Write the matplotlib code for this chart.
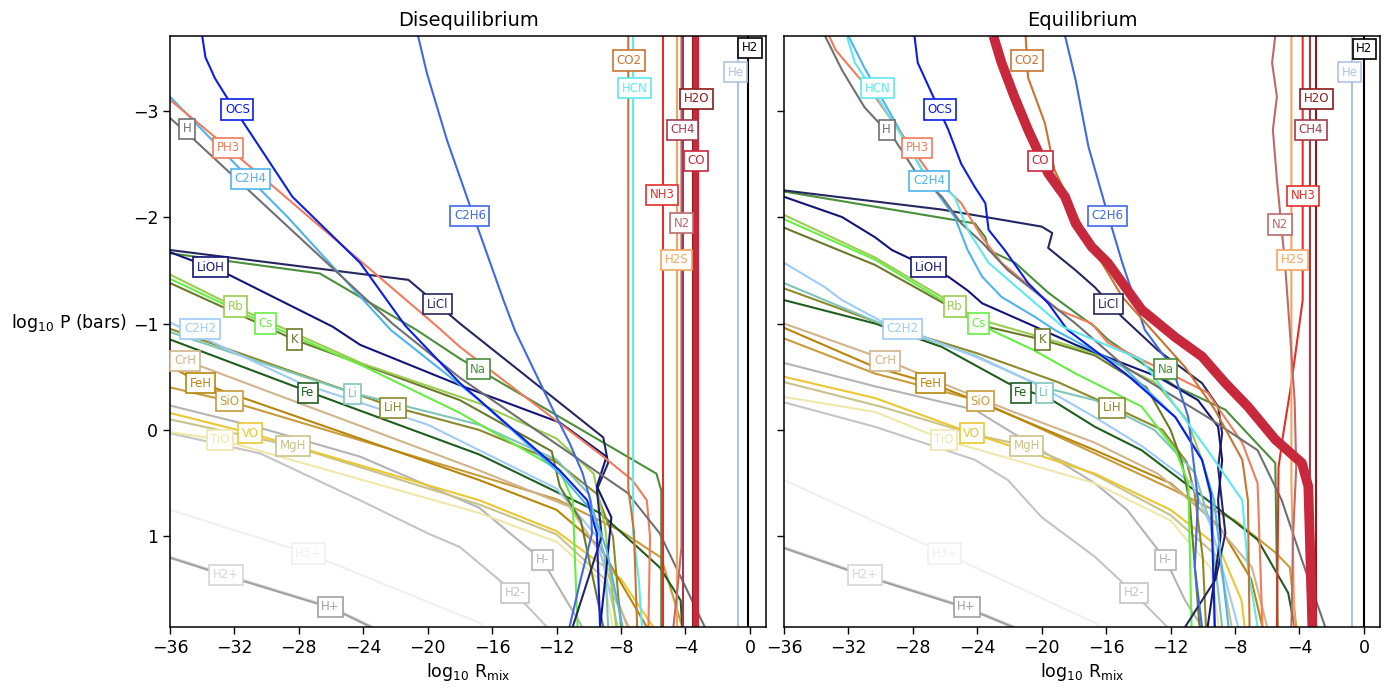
import matplotlib.pyplot as plt
import numpy as np

# ---------------------------------------------------------------
# curves: (log10 R_mix, log10 P [bars])
# ---------------------------------------------------------------

# Disequilibrium panel
dis_H2 = [(-0.1, -3.7), (-0.1, 1.85)]
dis_He = [(-0.75, -3.7), (-0.75, 1.85)]
dis_H2O = [(-3.55, -3.7), (-3.55, 1.85)]
dis_CO = [(-3.35, -3.7), (-3.35, 1.85)]
dis_CH4 = [(-4.15, -3.7), (-4.15, 1.85)]
dis_N2 = [(-4.25, -3.7), (-4.25, 1.1), (-4.5, 1.5), (-4.75, 1.85)]
dis_H2S = [(-4.55, -3.7), (-4.55, 1.85)]
dis_NH3 = [(-5.4, -3.7), (-5.4, 1.85)]
dis_CO2 = [(-7.55, -3.7), (-7.55, 0.55), (-7.2, 0.95), (-7.0, 1.85)]
dis_HCN = [(-7.25, -3.7), (-7.25, 0.97), (-6.9, 1.4), (-6.7, 1.85)]
dis_C2H6 = [(-20.6, -3.7), (-20.05, -3.35), (-18.8, -2.72), (-17.25, -2.05),
            (-15.3, -1.22), (-14.6, -0.94), (-12.0, -0.12), (-11.2, 0.12),
            (-10.4, 0.4), (-9.9, 0.66), (-9.8, 0.97), (-10.5, 1.4), (-11.2, 1.85)]
dis_OCS = [(-34.0, -3.7), (-33.8, -3.5), (-33.2, -3.3), (-32.5, -3.13),
           (-28.4, -2.19), (-24.2, -1.57), (-21.4, -0.98), (-18.0, -0.44),
           (-11.8, 0.38), (-10.1, 0.66), (-9.5, 0.97), (-9.3, 1.85)]
dis_H = [(-36, -2.93), (-34.6, -2.74), (-28.4, -1.87), (-22.2, -1.0),
         (-18.0, -0.49), (-7.6, 0.59), (-5.6, 0.97), (-2.8, 1.85)]
dis_PH3 = [(-36, -3.1), (-32.4, -2.65), (-19.4, -0.97), (-18.0, -0.78),
           (-9.1, 0.25), (-7.3, 0.47), (-6.4, 0.66), (-6.2, 1.0), (-6.3, 1.85)]
dis_C2H4 = [(-36, -3.13), (-31.0, -2.35), (-28.7, -2.0), (-22.3, -0.94),
            (-16.8, -0.28), (-11.8, 0.41), (-9.7, 0.78), (-8.9, 1.12), (-7.9, 1.85)]
dis_LiOH = [(-36, -1.67), (-32.5, -1.47), (-25.9, -0.97), (-24.2, -0.8),
            (-18.0, -0.42), (-11.8, -0.07), (-8.9, 0.25), (-9.5, 0.53),
            (-8.6, 0.82), (-8.9, 1.29), (-9.3, 1.85)]
dis_LiCl = [(-36, -1.69), (-21.2, -1.41), (-19.4, -1.18), (-18.0, -1.0),
            (-9.1, 0.07), (-8.8, 0.31), (-9.5, 0.56), (-9.2, 1.0), (-11.0, 1.85)]
dis_Na = [(-36, -1.66), (-26.7, -1.47), (-20.7, -0.94), (-18.0, -0.67),
          (-5.8, 0.41), (-5.5, 0.57), (-5.5, 1.85)]
dis_Rb = [(-36, -1.46), (-32.0, -1.16), (-24.0, -0.62), (-16.8, -0.25),
          (-12.0, 0.08), (-9.7, 0.41), (-9.0, 0.9), (-8.3, 1.85)]
dis_Cs = [(-36, -1.42), (-30.1, -1.0), (-24.0, -0.6), (-18.0, -0.16),
          (-11.8, 0.38), (-11.0, 0.66), (-10.7, 1.85)]
dis_K = [(-36, -1.38), (-28.3, -0.85), (-18.0, -0.28), (-12.3, 0.2),
         (-11.8, 0.53), (-10.5, 0.85), (-9.1, 1.85)]
dis_C2H2 = [(-36, -1.01), (-27.9, -0.44), (-20.0, -0.05), (-16.8, 0.19),
            (-12.0, 0.55), (-9.5, 1.0), (-8.2, 1.85)]
dis_Li = [(-36, -0.92), (-24.7, -0.35), (-16.8, -0.05), (-12.0, 0.28),
          (-10.0, 0.6), (-9.0, 1.2), (-8.8, 1.85)]
dis_LiH = [(-36, -0.95), (-22.2, -0.22), (-16.8, 0.0), (-12.0, 0.3),
           (-9.5, 0.6), (-8.5, 1.0), (-8.0, 1.85)]
dis_Fe = [(-36, -0.85), (-27.4, -0.36), (-16.8, 0.23), (-9.3, 0.78),
          (-5.6, 1.29), (-4.3, 1.6), (-4.2, 1.85)]
dis_CrH = [(-36, -0.7), (-35.0, -0.65), (-16.8, 0.38), (-11.2, 0.72),
           (-9.3, 1.15), (-7.6, 1.85)]
dis_FeH = [(-36, -0.6), (-34.1, -0.44), (-16.8, 0.47), (-12.0, 0.75),
           (-9.3, 1.1), (-6.4, 1.85)]
dis_SiO = [(-36, -0.4), (-32.3, -0.27), (-16.8, 0.43), (-12.0, 0.65),
           (-8.0, 0.95), (-5.5, 1.2), (-4.2, 1.85)]
dis_VO = [(-36, -0.16), (-31.0, 0.03), (-16.8, 0.66), (-12.0, 0.95),
          (-8.0, 1.4), (-6.0, 1.85)]
dis_TiO = [(-36, 0.02), (-32.9, 0.09), (-16.8, 0.78), (-12.0, 1.05),
           (-9.0, 1.45), (-8.5, 1.85)]
dis_MgH = [(-36, -0.1), (-28.4, 0.15), (-16.8, 0.7), (-12.0, 0.98),
           (-9.0, 1.4), (-7.5, 1.85)]
dis_Hm = [(-36, -0.23), (-30.4, -0.02), (-24.2, 0.25), (-16.8, 0.73),
          (-12.9, 1.22), (-10.4, 1.85)]
dis_H2m = [(-36, 0.03), (-30.4, 0.22), (-24.2, 0.66), (-20.0, 0.97),
           (-18.0, 1.1), (-14.6, 1.53), (-12.6, 1.85)]
dis_H3p = [(-36, 0.75), (-27.4, 1.16), (-16.8, 1.81), (-16.5, 1.85)]
dis_H2p = [(-36, 1.19), (-32.5, 1.36), (-26.0, 1.66), (-23.4, 1.85)]
dis_Hp = [(-36, 1.2), (-32.5, 1.37), (-26.0, 1.67), (-23.4, 1.86)]

# Equilibrium panel
eq_H2 = [(-0.02, -3.7), (-0.02, 1.85)]
eq_He = [(-0.72, -3.7), (-0.72, 1.85)]
eq_H2O = [(-3.0, -3.7), (-3.0, 1.85)]
eq_CH4 = [(-3.35, -3.7), (-3.35, 0.9), (-3.5, 1.4), (-3.4, 1.85)]
eq_NH3 = [(-3.8, -3.7), (-3.8, -1.22), (-4.5, -0.44), (-5.0, 0.03),
          (-5.3, 0.35), (-5.4, 1.85)]
eq_H2S = [(-4.5, -3.7), (-4.5, 0.5), (-4.3, 1.85)]
eq_N2 = [(-5.5, -3.7), (-5.7, -3.45), (-5.4, -3.13), (-5.65, -2.82),
         (-5.4, -2.35), (-5.2, -2.04), (-4.9, -1.57), (-4.6, -0.94),
         (-4.3, -0.28), (-4.2, 0.35), (-4.4, 1.0), (-4.5, 1.85)]
eq_CO = [(-23.0, -3.7), (-22.5, -3.45), (-21.7, -3.13), (-20.85, -2.82),
         (-19.6, -2.41), (-18.55, -2.19), (-17.9, -1.94), (-16.9, -1.72),
         (-15.9, -1.57), (-13.8, -1.13), (-11.7, -0.87), (-10.05, -0.69),
         (-8.6, -0.44), (-7.2, -0.22), (-5.5, 0.09), (-3.85, 0.31),
         (-3.45, 0.53), (-3.2, 1.85)]
eq_CO2 = [(-21.0, -3.7), (-20.85, -3.31), (-19.8, -2.88), (-19.2, -2.44),
          (-18.4, -2.19), (-17.1, -1.78), (-15.0, -1.25), (-11.1, -0.59),
          (-9.25, -0.19), (-7.55, 0.28), (-7.2, 0.66), (-7.1, 1.85)]
eq_HCN = [(-32.1, -3.7), (-31.6, -3.45), (-29.3, -2.91), (-27.4, -2.44),
          (-25.4, -2.19), (-24.6, -1.88), (-23.3, -1.57), (-20.85, -1.25),
          (-18.7, -0.97), (-13.8, -0.66), (-9.7, 0.19), (-7.55, 0.66),
          (-7.2, 1.29), (-6.6, 1.85)]
eq_C2H6 = [(-18.55, -3.7), (-17.9, -3.29), (-17.1, -2.66), (-16.1, -2.13),
           (-15.0, -1.57), (-13.6, -0.94), (-11.9, -0.59), (-10.9, -0.12),
           (-10.3, 0.66), (-10.5, 1.29), (-10.05, 1.85)]
eq_OCS = [(-27.9, -3.7), (-27.7, -3.45), (-25.8, -2.82), (-25.0, -2.5),
          (-24.15, -2.28), (-23.5, -2.13), (-23.3, -1.88), (-22.3, -1.69),
          (-20.85, -1.38), (-19.6, -1.19), (-18.4, -0.94), (-14.8, -0.53),
          (-11.7, -0.12), (-10.05, 0.28), (-9.5, 0.6), (-9.25, 1.85)]
eq_H = [(-33.45, -3.7), (-32.4, -3.38), (-31.0, -3.03), (-29.1, -2.72),
        (-27.9, -2.44), (-26.2, -2.19), (-25.0, -1.94), (-23.7, -1.76),
        (-22.1, -1.5), (-20.0, -1.25), (-17.9, -1.0), (-14.8, -0.59),
        (-9.7, -0.12), (-6.6, 0.19), (-5.1, 0.66), (-3.85, 1.22), (-2.4, 1.85)]
eq_PH3 = [(-33.2, -3.7), (-32.8, -3.57), (-30.35, -3.13), (-27.1, -2.44),
          (-25.0, -2.13), (-23.7, -1.81), (-22.5, -1.57), (-19.0, -1.13),
          (-16.9, -1.0), (-15.9, -0.82), (-9.7, -0.35), (-7.55, 0.12),
          (-6.6, 0.5), (-6.3, 1.85)]
eq_C2H4 = [(-32.0, -3.7), (-31.0, -3.4), (-29.5, -3.0), (-27.1, -2.35),
           (-25.4, -2.0), (-24.6, -1.69), (-23.7, -1.44), (-22.5, -1.25),
           (-20.4, -1.06), (-19.2, -0.94), (-15.0, -0.6), (-11.7, -0.12),
           (-10.05, 0.28), (-9.3, 0.66), (-8.4, 1.85)]
eq_LiOH = [(-36, -2.19), (-32.4, -2.0), (-30.35, -1.81), (-29.3, -1.69),
           (-25.8, -1.44), (-24.6, -1.31), (-23.7, -1.19), (-20.85, -1.0),
           (-17.9, -0.8), (-12.8, -0.5), (-10.3, -0.28), (-9.05, -0.03),
           (-8.8, 0.28), (-9.05, 0.66), (-8.9, 1.0), (-9.7, 1.85)]
eq_LiCl = [(-36, -2.25), (-26.2, -2.07), (-20.0, -1.91), (-19.35, -1.85),
           (-19.6, -1.71), (-17.9, -1.5), (-16.7, -1.34), (-15.0, -1.06),
           (-12.8, -0.75), (-10.05, -0.44), (-9.05, -0.22), (-8.8, 0.03),
           (-9.05, 0.35), (-8.6, 0.97), (-9.2, 1.4), (-11.1, 1.85)]
eq_Na = [(-36, -2.24), (-24.15, -1.94), (-23.5, -1.81), (-23.3, -1.69),
         (-21.65, -1.57), (-19.6, -1.29), (-17.9, -1.1), (-16.7, -0.97),
         (-15.9, -0.85), (-11.7, -0.41), (-8.6, -0.19), (-5.5, 0.31),
         (-5.35, 1.85)]
eq_Rb = [(-36, -2.02), (-30.35, -1.62), (-26.2, -1.25), (-25.4, -1.16),
         (-23.7, -1.03), (-20.0, -0.87), (-16.7, -0.72), (-13.0, -0.45),
         (-11.0, -0.1), (-10.0, 0.3), (-9.4, 0.7), (-9.3, 1.85)]
eq_Cs = [(-36, -1.98), (-30.35, -1.6), (-26.2, -1.22), (-24.0, -1.0),
         (-20.5, -0.75), (-17.9, -0.53), (-13.8, -0.22), (-11.7, 0.19),
         (-10.9, 0.5), (-10.7, 1.85)]
eq_K = [(-36, -1.9), (-30.35, -1.55), (-26.2, -1.2), (-23.7, -0.98),
        (-20.0, -0.85), (-16.7, -0.7), (-13.5, -0.4), (-12.0, 0.0),
        (-11.3, 0.3), (-10.8, 0.7), (-10.2, 1.85)]
eq_C2H2 = [(-36, -1.57), (-33.45, -1.34), (-32.4, -1.22), (-29.7, -1.0),
           (-28.6, -0.95), (-24.15, -0.69), (-20.4, -0.44), (-16.7, -0.12),
           (-13.8, 0.15), (-10.7, 0.5), (-9.5, 0.9), (-7.8, 1.85)]
eq_Li = [(-36, -1.38), (-30.0, -1.0), (-24.15, -0.7), (-19.9, -0.4),
         (-16.7, -0.28), (-13.0, 0.0), (-10.5, 0.4), (-9.5, 0.9), (-8.8, 1.85)]
eq_LiH = [(-36, -1.33), (-30.0, -1.0), (-24.0, -0.72), (-19.0, -0.45),
          (-15.6, -0.22), (-12.5, 0.0), (-11.0, 0.3), (-10.5, 0.6),
          (-10.0, 1.2), (-9.8, 1.85)]
eq_Fe = [(-36, -1.22), (-30.35, -1.0), (-26.2, -0.78), (-22.1, -0.44),
         (-19.35, -0.28), (-16.7, -0.03), (-13.8, 0.19), (-9.7, 0.66),
         (-6.6, 1.03), (-4.7, 1.53), (-4.3, 1.85)]
eq_CrH = [(-36, -1.0), (-29.7, -0.66), (-26.2, -0.44), (-22.1, -0.19),
          (-16.7, 0.12), (-12.8, 0.41), (-9.7, 0.8), (-6.95, 1.29), (-6.0, 1.85)]
eq_FeH = [(-36, -0.96), (-30.35, -0.59), (-26.9, -0.44), (-24.15, -0.28),
          (-16.7, 0.19), (-12.0, 0.5), (-9.0, 0.9), (-7.0, 1.4), (-6.3, 1.85)]
eq_SiO = [(-36, -0.86), (-30.35, -0.53), (-23.8, -0.27), (-16.7, 0.22),
          (-12.0, 0.55), (-8.0, 0.85), (-5.5, 1.15), (-4.6, 1.29), (-4.2, 1.85)]
eq_VO = [(-36, -0.5), (-30.35, -0.3), (-24.35, 0.03), (-16.7, 0.41),
         (-12.0, 0.75), (-9.0, 1.1), (-7.6, 1.6), (-7.4, 1.85)]
eq_MgH = [(-36, -0.45), (-30.0, -0.22), (-24.0, 0.05), (-20.9, 0.15),
          (-16.7, 0.42), (-12.0, 0.8), (-9.0, 1.2), (-8.2, 1.85)]
eq_TiO = [(-36, -0.31), (-30.35, -0.17), (-26.1, 0.09), (-16.7, 0.5),
          (-12.0, 0.85), (-9.5, 1.3), (-9.0, 1.85)]
eq_Hm = [(-36, -0.63), (-30.35, -0.41), (-24.15, -0.19), (-22.1, 0.0),
         (-16.7, 0.5), (-14.7, 0.75), (-12.3, 1.22), (-11.1, 1.6), (-10.05, 1.85)]
eq_H2m = [(-36, -0.26), (-30.35, -0.03), (-24.15, 0.28), (-22.1, 0.47),
          (-20.0, 0.82), (-16.7, 1.19), (-14.3, 1.53), (-12.2, 1.85)]
eq_H3p = [(-36, 0.47), (-26.0, 1.16), (-16.7, 1.81), (-16.3, 1.85)]
eq_H2p = [(-36, 1.1), (-31.0, 1.36), (-24.7, 1.66), (-21.65, 1.85)]
eq_Hp = [(-36, 1.11), (-31.0, 1.37), (-24.7, 1.67), (-21.65, 1.86)]

# label positions (box centres)
dis_label_pos = {
    'H2': (0.0, -3.59), 'He': (-0.87, -3.36), 'CO2': (-7.51, -3.47),
    'HCN': (-7.14, -3.21), 'H2O': (-3.31, -3.11), 'CH4': (-4.18, -2.82),
    'CO': (-3.35, -2.53), 'NH3': (-5.44, -2.21), 'N2': (-4.24, -1.94),
    'H2S': (-4.55, -1.6), 'OCS': (-31.82, -3.01), 'H': (-34.96, -2.83),
    'PH3': (-32.38, -2.65), 'C2H4': (-31.03, -2.36), 'C2H6': (-17.38, -2.01),
    'LiOH': (-33.47, -1.53), 'LiCl': (-19.41, -1.18), 'Rb': (-31.92, -1.16),
    'Cs': (-30.08, -1.0), 'C2H2': (-34.14, -0.95), 'K': (-28.28, -0.85),
    'Na': (-16.86, -0.57), 'CrH': (-35.07, -0.65), 'FeH': (-34.1, -0.44),
    'Fe': (-27.45, -0.35), 'Li': (-24.68, -0.34), 'LiH': (-22.14, -0.21),
    'SiO': (-32.32, -0.27), 'VO': (-31.03, 0.03), 'TiO': (-32.9, 0.09),
    'MgH': (-28.37, 0.15), 'H3+': (-27.42, 1.16), 'H2+': (-32.52, 1.36),
    'H+': (-26.03, 1.66), 'H-': (-12.87, 1.22), 'H2-': (-14.59, 1.53),
}
eq_label_pos = {
    'H2': (0.02, -3.58), 'He': (-0.87, -3.36), 'CO2': (-20.94, -3.47),
    'HCN': (-30.18, -3.21), 'H2O': (-2.93, -3.11), 'CH4': (-3.29, -2.82),
    'CO': (-20.07, -2.53), 'NH3': (-3.77, -2.2), 'N2': (-5.21, -1.93),
    'H2S': (-4.45, -1.6), 'OCS': (-26.32, -3.01), 'H': (-29.63, -2.82),
    'PH3': (-27.72, -2.65), 'C2H4': (-27.0, -2.34), 'C2H6': (-15.91, -2.01),
    'LiOH': (-27.0, -1.53), 'LiCl': (-15.87, -1.18), 'Rb': (-25.39, -1.16),
    'Cs': (-23.94, -1.0), 'C2H2': (-28.66, -0.95), 'K': (-19.97, -0.85),
    'Na': (-12.31, -0.57), 'CrH': (-29.73, -0.65), 'FeH': (-26.9, -0.44),
    'Fe': (-21.29, -0.35), 'Li': (-19.84, -0.35), 'LiH': (-15.62, -0.21),
    'SiO': (-23.79, -0.27), 'VO': (-24.35, 0.03), 'TiO': (-26.07, 0.09),
    'MgH': (-20.94, 0.15), 'H3+': (-26.01, 1.16), 'H2+': (-30.97, 1.36),
    'H+': (-24.66, 1.66), 'H-': (-12.31, 1.22), 'H2-': (-14.27, 1.53),
}

# species drawing order and colours
species = ['H3+', 'H2+', 'H+', 'H2-', 'H-', 'TiO', 'MgH', 'VO', 'SiO', 'FeH',
           'CrH', 'Fe', 'LiH', 'Li', 'C2H2', 'K', 'Cs', 'Rb', 'Na', 'LiCl',
           'LiOH', 'C2H4', 'PH3', 'H', 'OCS', 'C2H6', 'HCN', 'CO2', 'NH3',
           'H2S', 'N2', 'CH4', 'H2O', 'CO', 'He', 'H2']
colors = {
    'H2': '#000000', 'He': '#b0c4de', 'H2O': '#8b1a1a', 'CH4': '#a33b4b',
    'CO': '#c8283c', 'NH3': '#e0302a', 'N2': '#bc6a6a', 'H2S': '#f4a460',
    'CO2': '#c87533', 'HCN': '#5ee8f0', 'C2H6': '#4169e1', 'OCS': '#0a1ee6',
    'C2H4': '#4fb4ee', 'PH3': '#f07c5c', 'H': '#707070', 'LiOH': '#141478',
    'LiCl': '#262660', 'Na': '#4a8f3a', 'Rb': '#9acd50', 'Cs': '#66ee44',
    'K': '#6b7a2a', 'C2H2': '#a0cbf5', 'Li': '#7fc6b8', 'LiH': '#8c8a2c',
    'Fe': '#1f5e1f', 'CrH': '#d2b48c', 'FeH': '#b8860b', 'SiO': '#c89b3c',
    'VO': '#ebc734', 'TiO': '#eee8aa', 'MgH': '#c8c38a', 'H-': '#b4b4b4',
    'H2-': '#c4c4c4', 'H3+': '#f0f0f0', 'H2+': '#d6d6d6', 'H+': '#a0a0a0',
}

dis_curves = {
    'H2': dis_H2, 'He': dis_He, 'H2O': dis_H2O, 'CO': dis_CO, 'CH4': dis_CH4,
    'N2': dis_N2, 'H2S': dis_H2S, 'NH3': dis_NH3, 'CO2': dis_CO2,
    'HCN': dis_HCN, 'C2H6': dis_C2H6, 'OCS': dis_OCS, 'H': dis_H,
    'PH3': dis_PH3, 'C2H4': dis_C2H4, 'LiOH': dis_LiOH, 'LiCl': dis_LiCl,
    'Na': dis_Na, 'Rb': dis_Rb, 'Cs': dis_Cs, 'K': dis_K, 'C2H2': dis_C2H2,
    'Li': dis_Li, 'LiH': dis_LiH, 'Fe': dis_Fe, 'CrH': dis_CrH,
    'FeH': dis_FeH, 'SiO': dis_SiO, 'VO': dis_VO, 'TiO': dis_TiO,
    'MgH': dis_MgH, 'H-': dis_Hm, 'H2-': dis_H2m, 'H3+': dis_H3p,
    'H2+': dis_H2p, 'H+': dis_Hp,
}
eq_curves = {
    'H2': eq_H2, 'He': eq_He, 'H2O': eq_H2O, 'CO': eq_CO, 'CH4': eq_CH4,
    'N2': eq_N2, 'H2S': eq_H2S, 'NH3': eq_NH3, 'CO2': eq_CO2,
    'HCN': eq_HCN, 'C2H6': eq_C2H6, 'OCS': eq_OCS, 'H': eq_H,
    'PH3': eq_PH3, 'C2H4': eq_C2H4, 'LiOH': eq_LiOH, 'LiCl': eq_LiCl,
    'Na': eq_Na, 'Rb': eq_Rb, 'Cs': eq_Cs, 'K': eq_K, 'C2H2': eq_C2H2,
    'Li': eq_Li, 'LiH': eq_LiH, 'Fe': eq_Fe, 'CrH': eq_CrH,
    'FeH': eq_FeH, 'SiO': eq_SiO, 'VO': eq_VO, 'TiO': eq_TiO,
    'MgH': eq_MgH, 'H-': eq_Hm, 'H2-': eq_H2m, 'H3+': eq_H3p,
    'H2+': eq_H2p, 'H+': eq_Hp,
}

x_ticks = np.arange(-36, 1, 4)
y_ticks = [-3, -2, -1, 0, 1]


def draw_panel(ax, curves, label_pos, title, co_width):
    for name in species:
        pts = np.array(curves[name])
        lw = co_width if name == 'CO' else 1.5
        ax.plot(pts[:, 0], pts[:, 1], color=colors[name], lw=lw,
                solid_capstyle='butt', solid_joinstyle='round')
    for name in species:
        x, y = label_pos[name]
        c = colors[name]
        ax.text(x, y, name, ha='center', va='center', fontsize=8.5, color=c,
                zorder=10,
                bbox=dict(boxstyle='square,pad=0.3', fc='white', ec=c, lw=1.2))
    ax.set_xlim(-36, 1)
    ax.set_ylim(1.85, -3.7)
    ax.set_xticks(x_ticks)
    ax.set_yticks(y_ticks)
    ax.tick_params(labelsize=12.5, length=5, width=1)
    for s in ax.spines.values():
        s.set_linewidth(1.1)
    ax.set_title(title, fontsize=14, pad=7)
    ax.set_xlabel(r'$\mathregular{log_{10}\ R_{mix}}$', fontsize=12.5, labelpad=3)


fig = plt.figure(figsize=(13.88, 6.9), dpi=100)
ax1 = fig.add_axes([170 / 1388, 1 - 627 / 690, 596 / 1388, 591 / 690])
ax2 = fig.add_axes([784 / 1388, 1 - 627 / 690, 596 / 1388, 591 / 690])

draw_panel(ax1, dis_curves, dis_label_pos, 'Disequilibrium', 4.5)
draw_panel(ax2, eq_curves, eq_label_pos, 'Equilibrium', 7)
ax2.tick_params(labelleft=False)

fig.text(127 / 1388, 1 - 323 / 690, r'$\mathregular{log_{10}}$ P (bars)',
         ha='right', va='center', fontsize=12.5)

fig.savefig('out.png', dpi=100)
